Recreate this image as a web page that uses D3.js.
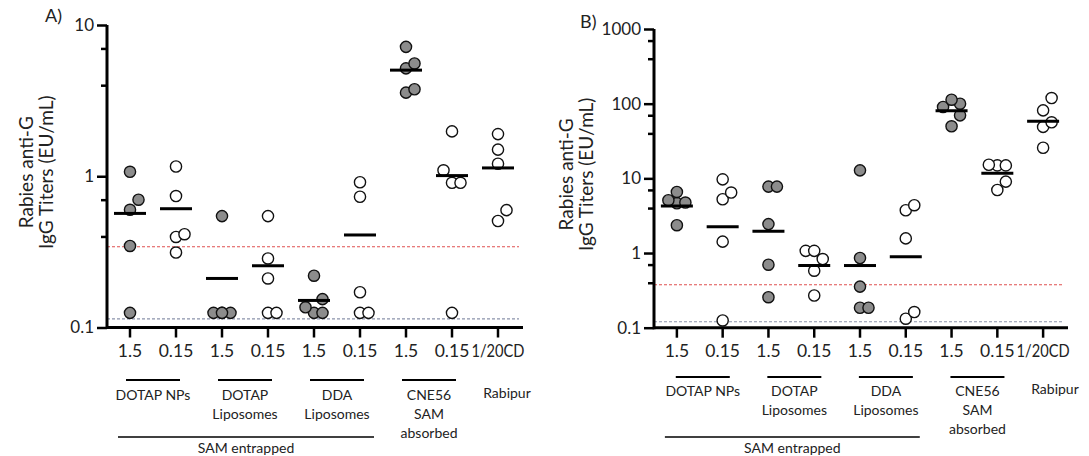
<!DOCTYPE html>
<html>
<head>
<meta charset="utf-8">
<script src="https://cdn.jsdelivr.net/npm/d3@7"></script>
<style>
  body { margin: 0; background: #fff; }
  svg text { font-family: Lato, "Open Sans", sans-serif; fill: #222; }
</style>
</head>
<body>
<svg id="chart" width="1089" height="456"></svg>
<script>
// ---- categories -------------------------------------------------------
const doseLabels = ["1.5", "0.15", "1.5", "0.15", "1.5", "0.15", "1.5", "0.15", "1/20CD"];
const highDose = [true, false, true, false, true, false, true, false, false];   // filled markers
const formulations = [["DOTAP NPs"], ["DOTAP", "Liposomes"], ["DDA", "Liposomes"], ["CNE56", "SAM", "absorbed"]];
const referenceVaccine = "Rabipur";
const platformLabel = "SAM entrapped";
const yTitle = ["Rabies anti-G", "IgG Titers (EU/mL)"];

// ---- panel A: titers per mouse (EU/mL) and group mean ------------------
const titersA = [
  [1.07, 0.70, 0.60, 0.346, 0.125],
  [1.16, 0.74, 0.414, 0.397, 0.313],
  [0.545, 0.125, 0.125, 0.125, 0.125],
  [0.545, 0.286, 0.211, 0.125, 0.125],
  [0.22, 0.154, 0.136, 0.125, 0.125],
  [0.913, 0.732, 0.171, 0.125, 0.125],
  [7.17, 5.57, 5.17, 3.76, 3.57],
  [1.98, 1.095, 0.905, 0.905, 0.125],
  [1.9, 1.5, 1.21, 0.597, 0.506]
];
const meansA = [0.568, 0.61, 0.211, 0.256, 0.151, 0.409, 5.03, 1.01, 1.135];
const majorTicksA = [0.1, 1, 10];
const limitsA = { protective: 0.342, detection: 0.114 };

// ---- panel B ------------------------------------------------------------
const titersB = [
  [6.57, 5.09, 4.74, 4.64, 2.36],
  [9.7, 6.45, 5.25, 1.42, 0.125],
  [7.75, 7.75, 2.44, 0.698, 0.256],
  [1.07, 1.07, 0.83, 0.58, 0.27],
  [12.8, 0.858, 0.355, 0.185, 0.185],
  [4.37, 3.74, 1.57, 0.162, 0.132],
  [113, 100, 90.3, 69.8, 49.8],
  [15.2, 14.9, 14.9, 9.04, 6.98],
  [119, 81.4, 56.3, 48.9, 25.7]
];
const meansB = [4.27, 2.24, 1.95, 0.68, 0.68, 0.89, 80.7, 11.7, 58];
const majorTicksB = [0.1, 1, 10, 100, 1000];
const limitsB = { protective: 0.376, detection: 0.12 };

// minor ticks sit at 4x and 7x of each decade
const minorMultipliers = [4, 7];

// ---- layout -------------------------------------------------------------
const panels = [
  { tag: "A)", titers: titersA, means: meansA, majors: majorTicksA, limits: limitsA,
    x: [107, 521], y: [327.5, 25], tagPos: [45, 22], titleX: [33, 53], textY: 399.5, lineY: 380,
    lineShift: 0, rabipurX: 507 },
  { tag: "B)", titers: titersB, means: meansB, majors: majorTicksB, limits: limitsB,
    x: [654, 1066], y: [327.7, 29], tagPos: [580, 28], titleX: [573, 593], textY: 396, lineY: 377,
    lineShift: 3, rabipurX: 1055 }
];

const R = 5.6;          // marker radius
const STEP = 8.5;       // sideways shift for crowded markers
const svg = d3.select("#chart");

// spread markers sideways (bottom-up) when they would overlap
function dodge(values, y) {
  const pts = values.map(v => ({ v, y: y(v), dx: 0 })).sort((a, b) => b.y - a.y);
  const placed = [];
  const candidates = [0, STEP, -STEP];
  pts.forEach(p => {
    let best = 0, bestGap = -Infinity;
    for (const dx of candidates) {
      const gap = placed.length ? d3.min(placed, q => Math.hypot(q.dx - dx, q.y - p.y)) : Infinity;
      if (gap >= 14) { best = dx; bestGap = gap; break; }
      if (gap > bestGap) { bestGap = gap; best = dx; }
    }
    p.dx = best;
    placed.push(p);
  });
  return pts;
}

panels.forEach(P => {
  const g = svg.append("g");
  const x = d3.scaleBand().domain(d3.range(doseLabels.length)).range(P.x);
  const y = d3.scaleLog().domain([d3.min(P.majors), d3.max(P.majors)]).range(P.y);
  const cx = i => x(i) + x.bandwidth() / 2;
  const xEnd = P.x[1] + 2;

  // threshold lines
  g.append("line").attr("x1", P.x[0]).attr("x2", xEnd - 4)
    .attr("y1", y(P.limits.protective)).attr("y2", y(P.limits.protective))
    .attr("stroke", "#e05050").attr("stroke-width", 1.1).attr("stroke-dasharray", "3,2");
  g.append("line").attr("x1", P.x[0]).attr("x2", xEnd - 4)
    .attr("y1", y(P.limits.detection)).attr("y2", y(P.limits.detection))
    .attr("stroke", "#8a92aa").attr("stroke-width", 1.1).attr("stroke-dasharray", "3,2");

  // x axis
  const xAxis = d3.axisBottom(x).tickSize(10).tickSizeOuter(0).tickPadding(7)
    .tickFormat(i => doseLabels[i]);
  const gx = g.append("g").attr("transform", `translate(0,${P.y[0]})`).call(xAxis);
  gx.select(".domain").attr("d", `M${P.x[0]},0H${xEnd}`).attr("stroke", "#000").attr("stroke-width", 3);
  gx.selectAll(".tick line").attr("stroke", "#000").attr("stroke-width", 2.5);
  gx.selectAll(".tick text").attr("font-size", 17.5).attr("fill", "#222")
    .style("font-family", "Lato, sans-serif")
    .each(function (i) {
      // long dose label is set a little tighter so it keeps clear of its neighbour
      if (doseLabels[i].length > 4) d3.select(this).attr("textLength", 53).attr("lengthAdjust", "spacingAndGlyphs");
    });

  // y axis: major ticks with labels
  const yAxis = d3.axisLeft(y).tickValues(P.majors).tickSize(10).tickSizeOuter(0).tickPadding(3)
    .tickFormat(d3.format("~g"));
  const gy = g.append("g").attr("transform", `translate(${P.x[0]},0)`).call(yAxis);
  gy.select(".domain").attr("d", `M0,${P.y[0] + 1.5}V${P.y[1]}`).attr("stroke", "#000").attr("stroke-width", 3);
  gy.selectAll(".tick line").attr("stroke", "#000").attr("stroke-width", 2.5);
  gy.selectAll(".tick text").attr("font-size", 17).attr("fill", "#222")
    .style("font-family", "Lato, sans-serif");

  // y axis: minor ticks
  const minors = [];
  P.majors.slice(0, -1).forEach(m => minorMultipliers.forEach(k => minors.push(m * k)));
  const gm = g.append("g").attr("transform", `translate(${P.x[0]},0)`)
    .call(d3.axisLeft(y).tickValues(minors).tickSize(6).tickFormat(""));
  gm.select(".domain").remove();
  gm.selectAll(".tick line").attr("stroke", "#000").attr("stroke-width", 2.5);

  // markers
  P.titers.forEach((vals, i) => {
    const pts = dodge(vals, y);
    g.append("g").selectAll("circle").data(pts).join("circle")
      .attr("cx", d => cx(i) + d.dx).attr("cy", d => d.y).attr("r", R)
      .attr("fill", highDose[i] ? "#8c8c8c" : "#fff")
      .attr("stroke", "#111").attr("stroke-width", 1.4);
  });

  // group mean bars
  g.append("g").selectAll("line").data(P.means).join("line")
    .attr("x1", (d, i) => cx(i) - 16).attr("x2", (d, i) => cx(i) + 16)
    .attr("y1", d => y(d)).attr("y2", d => y(d))
    .attr("stroke", "#000").attr("stroke-width", 3);

  // panel tag
  g.append("text").attr("x", P.tagPos[0]).attr("y", P.tagPos[1])
    .attr("font-size", 18).text(P.tag);

  // y title (two lines)
  const midY = (P.y[0] + P.y[1]) / 2 - 4;
  yTitle.forEach((t, k) => {
    g.append("text")
      .attr("transform", `translate(${P.titleX[k]},${midY}) rotate(-90)`)
      .attr("text-anchor", "middle").attr("font-size", 19).text(t);
  });

  // formulation labels with underlines
  formulations.forEach((lines, f) => {
    const mid = (cx(2 * f) + cx(2 * f + 1)) / 2 + P.lineShift;
    g.append("line").attr("x1", mid - 27).attr("x2", mid + 27)
      .attr("y1", P.lineY).attr("y2", P.lineY).attr("stroke", "#000").attr("stroke-width", 2);
    lines.forEach((t, k) => {
      g.append("text").attr("x", mid).attr("y", P.textY + k * 19)
        .attr("text-anchor", "middle").attr("font-size", 14).attr("fill", "#333").text(t);
    });
  });
  g.append("text").attr("x", P.rabipurX).attr("y", P.textY - 2)
    .attr("text-anchor", "middle").attr("font-size", 14).attr("fill", "#333").text(referenceVaccine);

  // platform bracket
  const sx0 = cx(0) - 12, sx1 = cx(5) + 14;
  g.append("line").attr("x1", sx0).attr("x2", sx1).attr("y1", 437).attr("y2", 437)
    .attr("stroke", "#000").attr("stroke-width", 1.5);
  g.append("text").attr("x", (sx0 + sx1) / 2).attr("y", 453)
    .attr("text-anchor", "middle").attr("font-size", 14).attr("fill", "#333").text(platformLabel);
});
</script>
</body>
</html>
